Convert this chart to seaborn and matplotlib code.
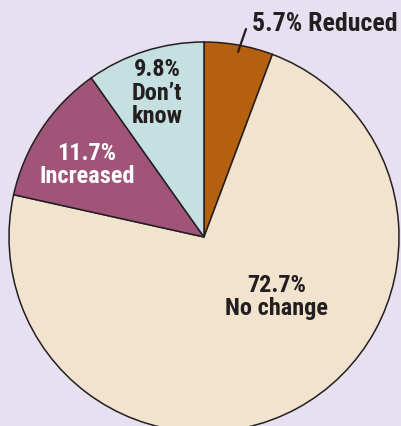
import matplotlib
matplotlib.use("Agg")
import matplotlib.pyplot as plt
import seaborn as sns

categories = ["Reduced", "No change", "Increased", "Don\u2019t know"]
values = [5.7, 72.7, 11.7, 9.8]
colors = ["#B5600F", "#F2E3CE", "#A05478", "#C6E0E2"]
text_colors = ["#231F20", "#231F20", "#FFFFFF", "#231F20"]

sns.set_theme(style="white")
plt.rcParams['font.family'] = ['Roboto Condensed', 'DejaVu Sans']

W, H = 402, 426
fig = plt.figure(figsize=(W / 100, H / 100), dpi=100)
fig.patch.set_facecolor("#E6E0F0")
ax = fig.add_axes([0, 0, 1, 1])
ax.set_facecolor("#E6E0F0")

cx, cy, r = 204, H - 237, 195
ax.pie(values, colors=colors, startangle=90, counterclock=False,
       center=(cx, cy), radius=r, frame=True,
       wedgeprops=dict(edgecolor="#231F20", linewidth=1.1))
ax.set_xlim(0, W)
ax.set_ylim(0, H)
ax.set_aspect("equal")
ax.axis("off")

fs = 17.5
ls = 1.05
# Reduced (outside with leader line)
ax.plot([238, 246], [H - 52, H - 29], color="#231F20", lw=1.6)
ax.text(252, H - 24, f"{values[0]}% {categories[0]}", ha="left", va="center",
        fontsize=fs + 1, fontweight="bold", color=text_colors[0])
# No change
ax.text(277, H - 297, f"{values[1]}%\n{categories[1]}", ha="center", va="center",
        fontsize=fs, fontweight="bold", color=text_colors[1], linespacing=ls)
# Increased
ax.text(87, H - 165, f"{values[2]}%\n{categories[2]}", ha="center", va="center",
        fontsize=fs, fontweight="bold", color=text_colors[2], linespacing=ls)
# Don't know
ax.text(157, H - 93, f"{values[3]}%\nDon\u2019t\nknow", ha="center", va="center",
        fontsize=fs, fontweight="bold", color=text_colors[3], linespacing=ls)

fig.savefig("out.png", dpi=100, facecolor=fig.get_facecolor())
